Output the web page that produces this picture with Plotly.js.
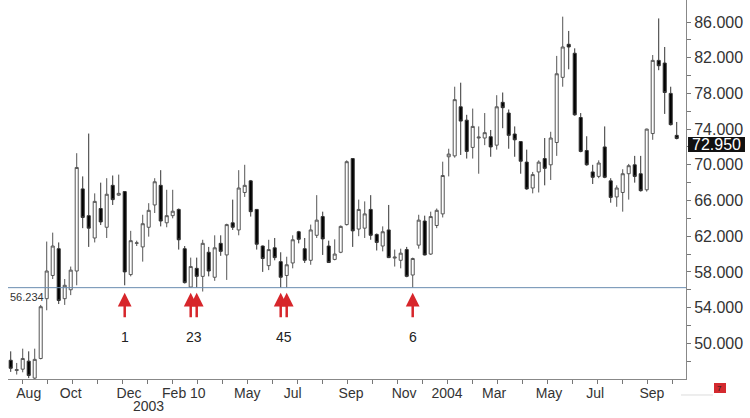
<!DOCTYPE html>
<html><head><meta charset="utf-8">
<script src="https://cdn.plot.ly/plotly-3.0.1.min.js"></script>
<style>html,body{margin:0;padding:0;background:#fff;}#chart{width:750px;height:418px;}</style>
</head><body><div id="chart"></div>
<script>
// weekly candles, first bar week of 2002-07-22
const startDate = '2002-07-22';
const openP = [48.1,46.95,47.1,48.0,46.1,48.3,55.0,57.6,60.6,55.0,56.0,58.1,67.3,64.3,61.8,65.1,63.0,67.7,66.6,67.0,
57.7,61.2,60.8,63.0,65.5,67.7,63.5,64.3,65.0,60.6,56.3,58.4,57.5,60.2,57.4,61.2,59.9,63.5,62.7,66.9,
68.2,65.0,60.9,58.7,60.7,59.15,57.6,59.0,62.5,60.6,59.3,62.1,64.2,60.9,59.4,60.2,63.3,70.7,62.8,62.9,
65.0,62.2,60.9,62.7,59.55,59.3,60.5,57.65,61.0,63.7,60.0,63.2,64.5,70.9,71.0,76.5,75.0,71.95,73.0,73.0,
73.15,72.2,77.0,75.8,73.45,72.6,70.3,67.4,69.2,70.7,70.0,72.5,79.8,83.5,82.5,75.3,71.6,69.2,68.7,72.0,
68.2,66.4,66.9,69.0,70.0,69.0,67.2,73.5,81.7,81.4,78.0,73.3];
const highP = [49.1,47.8,49.4,49.1,49.4,54.3,61.4,62.4,61.3,57.2,58.6,71.3,68.7,73.5,66.8,68.0,68.5,68.8,68.9,67.05,
62.6,61.5,64.4,65.7,68.5,69.4,67.2,67.2,65.1,60.9,59.6,59.6,61.6,60.8,62.1,62.1,63.4,66.1,69.4,70.0,
68.3,65.05,60.95,61.6,61.8,60.2,59.7,62.1,62.6,61.8,63.3,66.6,64.75,61.5,61.65,63.2,70.5,70.75,66.1,65.9,
66.6,62.3,63.1,65.5,60.5,60.6,60.8,59.6,64.4,64.3,64.75,65.1,70.35,71.8,78.75,79.2,75.6,76.3,74.3,75.8,
73.9,77.8,78.1,76.2,74.3,72.65,71.7,69.2,70.5,73.0,73.7,82.2,86.6,85.0,83.05,75.8,73.2,70.0,70.5,74.3,
68.5,67.7,69.5,70.1,71.0,71.0,74.05,82.3,86.4,83.2,78.75,74.8];
const lowP = [46.8,46.5,46.75,46.1,46.0,48.2,53.7,57.2,54.4,54.3,55.4,56.5,62.9,60.8,61.3,63.25,61.8,65.5,66.5,56.5,
57.5,60.9,59.15,61.95,64.6,63.1,63.0,64.0,60.5,56.7,56.24,56.24,55.8,57.5,57.0,59.8,57.1,62.7,62.1,66.4,
64.2,60.5,58.0,58.2,59.3,56.24,56.24,58.4,61.2,59.0,58.8,61.8,59.9,59.0,59.3,60.1,63.2,60.8,62.0,61.8,
61.6,60.4,60.3,59.55,58.6,58.4,57.4,56.24,60.6,59.85,59.9,62.9,64.1,68.7,70.8,71.1,70.7,70.7,69.0,72.2,
70.9,71.7,74.1,71.8,70.9,69.0,67.2,66.8,66.9,67.7,68.3,71.0,78.75,80.7,75.5,71.4,69.9,67.85,68.5,68.5,
65.75,65.3,64.75,66.1,68.0,67.0,67.0,72.8,80.6,75.7,74.4,72.85];
const closeP = [47.2,47.05,48.3,46.4,48.2,54.1,58.1,60.9,54.8,56.5,58.2,69.7,64.1,62.9,65.9,63.6,66.7,66.1,66.8,58.0,
61.5,61.25,63.4,64.9,68.1,63.7,64.3,64.8,61.6,56.8,58.6,57.5,61.2,58.1,60.7,60.3,63.3,63.0,67.4,67.7,
64.75,61.1,59.5,60.5,59.6,57.4,58.8,61.6,61.65,59.3,62.7,63.8,61.7,59.05,60.0,63.1,70.35,62.6,65.0,64.5,
62.1,61.3,62.5,59.6,59.65,60.1,57.5,59.5,63.8,59.9,64.2,64.9,68.8,71.2,77.3,74.9,71.5,74.3,73.1,73.6,
72.0,76.5,76.4,73.3,72.8,70.4,67.3,68.9,70.3,69.6,73.0,80.2,83.2,83.2,75.6,71.5,70.0,68.6,70.2,68.6,
66.35,67.4,69.0,69.9,68.7,67.1,74.0,81.7,81.1,78.1,74.5,72.95];

const supportLevel = 56.234;
const lastPrice = 72.950;
const priceTicks = [50,54,58,62,66,70,74,78,82,86];
const priceMinorTicks = [48,52,56,60,64,68,72,76,80,84];
const tickDates = ['2002-08-12','2002-09-30','2002-12-07','2003-02-09','2003-04-24','2003-06-16','2003-08-23',
  '2003-10-24','2003-12-13','2004-02-06','2004-04-10','2004-06-03','2004-08-08'];
const tickLabels = ['Aug','Oct','Dec','Feb 10','May','Jul','Sep','Nov','2004','Mar','May','Jul','Sep'];
const yearLabel = '2003';
const yearLabelDate = '2002-12-30';
const arrowCandles = [20,31,32,46,47,68];
const markerLabels = ['1','23','45','6'];
const markerLabelCandles = [[20],[31,32],[46,47],[68]];

function weekDates(start, n){
  const out = [];
  const t0 = Date.parse(start + 'T00:00:00Z');
  for (let i = 0; i < n; i++) out.push(new Date(t0 + i*7*86400000).toISOString().slice(0,10));
  return out;
}
const dates = weekDates(startDate, closeP.length);
function midDate(idxs){
  const t = idxs.map(n => Date.parse(dates[n-1] + 'T00:00:00Z'));
  const m = t.reduce((a,b)=>a+b,0)/t.length;
  return new Date(m).toISOString().slice(0,19).replace('T',' ');
}

const FONT = 'Liberation Sans, Arial, sans-serif';

const trace = {
  type: 'candlestick',
  x: dates, open: openP, high: highP, low: lowP, close: closeP,
  increasing: {line: {color: '#555555', width: 1}, fillcolor: '#ffffff'},
  decreasing: {line: {color: '#333333', width: 1}, fillcolor: '#000000'},
  whiskerwidth: 0,
  hoverinfo: 'skip',
  showlegend: false
};

const annotations = [];
arrowCandles.forEach(n => annotations.push({
  x: dates[n-1], y: 55.65, xref: 'x', yref: 'y', text: '', showarrow: true,
  ax: 0, ay: 26, arrowhead: 2, arrowsize: 1.1, arrowwidth: 2.5, arrowcolor: '#d7262b', standoff: 0
}));
markerLabels.forEach((t, i) => annotations.push({
  x: midDate(markerLabelCandles[i]), y: 50.7, xref: 'x', yref: 'y', text: t, showarrow: false,
  font: {family: FONT, size: 14, color: '#222'}, xanchor: 'center', yanchor: 'middle'
}));
annotations.push({
  x: 0, xref: 'paper', y: supportLevel, yref: 'y', text: supportLevel.toFixed(3), showarrow: false,
  xanchor: 'left', yanchor: 'top', yshift: -1, font: {family: FONT, size: 11, color: '#333'}
});
annotations.push({
  x: yearLabelDate, xref: 'x', y: -0.071, yref: 'paper', text: yearLabel, showarrow: false,
  xanchor: 'center', yanchor: 'middle', font: {family: FONT, size: 14, color: '#333'}
});
annotations.push({
  x: 1.045, xref: 'paper', y: 0.619, yref: 'paper', text: lastPrice.toFixed(3), showarrow: false,
  xanchor: 'center', yanchor: 'middle', font: {family: FONT, size: 16, color: '#ffffff'}
});
annotations.push({
  x: 1.05, xref: 'paper', y: -0.025, yref: 'paper', text: '7', showarrow: false,
  xanchor: 'center', yanchor: 'middle', font: {family: FONT, size: 8, color: '#222'}
});

const shapes = [
  {type: 'line', xref: 'paper', x0: 0, x1: 1, yref: 'y', y0: supportLevel, y1: supportLevel,
   line: {color: '#6a8cb0', width: 1}, layer: 'above'},
  {type: 'rect', xref: 'paper', x0: 1.003, x1: 1.087, yref: 'paper', y0: 0.599, y1: 0.6385,
   fillcolor: '#111111', line: {width: 0}, layer: 'above'},
  {type: 'line', xref: 'paper', x0: 0.9926, x1: 1.0398, yref: 'paper', y0: -0.0422, y1: -0.0422,
   line: {color: '#dddddd', width: 1}},
  {type: 'rect', xref: 'paper', x0: 1.0413, x1: 1.059, yref: 'paper', y0: -0.0369, y1: -0.0106,
   fillcolor: '#d42a2f', line: {width: 0}}
];

const layout = {
  width: 750, height: 418,
  margin: {l: 8, r: 64, t: 0, b: 39, pad: 0},
  paper_bgcolor: '#ffffff', plot_bgcolor: '#ffffff',
  showlegend: false,
  boxgap: 0.28,
  xaxis: {
    type: 'date',
    range: ['2002-07-18 20:00', '2004-09-16 20:00'],
    rangeslider: {visible: false},
    tickmode: 'array', tickvals: tickDates, ticktext: tickLabels,
    ticks: 'outside', ticklen: 1, tickcolor: 'rgba(0,0,0,0)',
    minor: {ticks: 'outside', ticklen: 4, tickcolor: '#777', tick0: '2002-08-04 05:00', dtick: 2520288000, showgrid: false},
    showline: true, linecolor: '#888', linewidth: 1,
    showgrid: false, zeroline: false,
    tickfont: {family: FONT, size: 14, color: '#333'},
    fixedrange: true
  },
  yaxis: {
    side: 'right',
    range: [46.0, 88.465],
    tickmode: 'array', tickvals: priceTicks, ticktext: priceTicks.map(v => v.toFixed(3)),
    ticks: 'outside', ticklen: 4, tickcolor: '#777',
    minor: {ticks: 'outside', ticklen: 4, tickcolor: '#777', tickvals: priceMinorTicks, showgrid: false},
    showline: true, linecolor: '#888', linewidth: 1,
    showgrid: false, zeroline: false,
    tickfont: {family: FONT, size: 16, color: '#333'},
    fixedrange: true
  },
  annotations: annotations,
  shapes: shapes,
  hovermode: false
};

Plotly.newPlot('chart', [trace], layout, {displayModeBar: false, staticPlot: true});
</script>
</body></html>
